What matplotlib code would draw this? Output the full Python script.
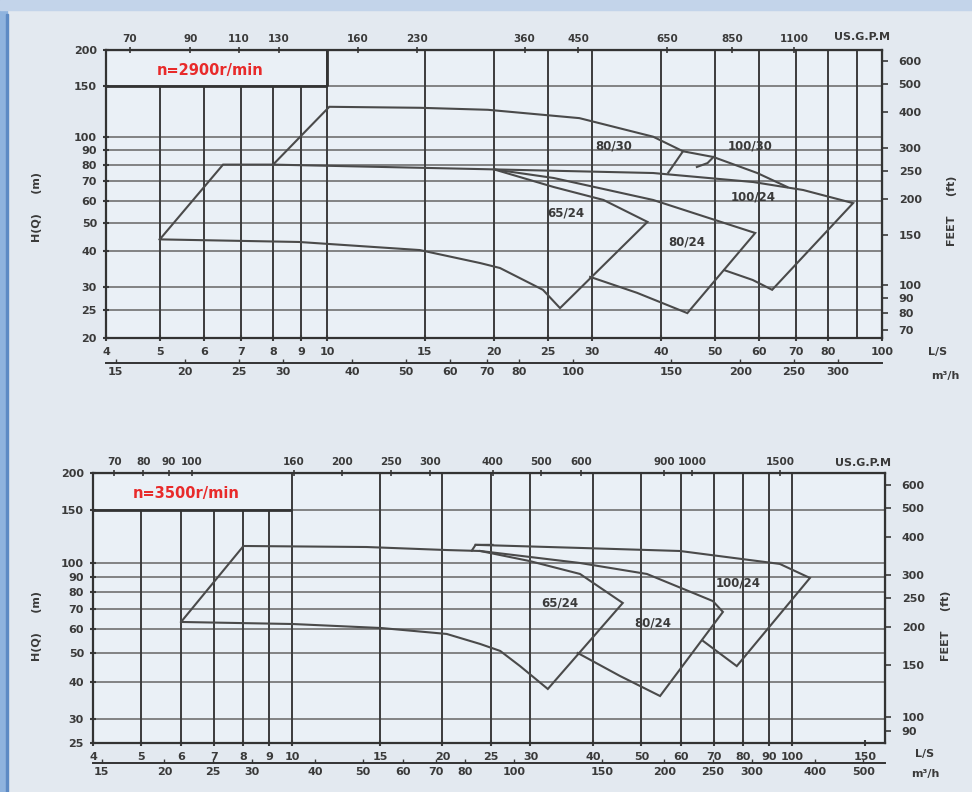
import matplotlib
matplotlib.use("Agg")
import matplotlib.pyplot as plt
from matplotlib.ticker import FixedLocator, NullLocator
from matplotlib.patches import Rectangle

# ---------------- top chart: n = 2900 r/min ----------------
top_ls_ticks = [4, 5, 6, 7, 8, 9, 10, 15, 20, 25, 30, 40, 50, 60, 70, 80, 100]
top_m3h_ticks = [15, 20, 25, 30, 40, 50, 60, 70, 80, 100, 150, 200, 250, 300]
top_gpm_pos = [70, 90, 110, 130, 180, 230, 360, 450, 650, 850, 1100]
top_gpm_labels = ["70", "90", "110", "130", "160", "230", "360", "450", "650", "850", "1100"]
top_h_ticks = [20, 25, 30, 40, 50, 60, 70, 80, 90, 100, 150, 200]
top_ft_ticks = [70, 80, 90, 100, 150, 200, 250, 300, 400, 500, 600]
top_vgrid_short = [5, 6, 7, 8, 9]
top_vgrid_full = [10, 15, 20, 25, 30, 40, 50, 60, 70, 80, 90]

# pump envelopes (Q in L/s, H in m)
t65_q = [5.0, 6.5, 8.0, 20.0, 25.6, 31.5, 37.8, 26.3, 24.5, 20.5, 18.9, 14.7, 8.9, 5.0]
t65_h = [44, 80, 80, 77, 66.9, 60.3, 50.6, 25.4, 29.4, 35.0, 36.4, 40.4, 43.1, 44]
t80_q = [20.0, 25.6, 38.7, 59.1, 44.6, 36.2, 29.8]
t80_h = [77, 71.9, 60.3, 46.3, 24.4, 28.7, 32.6]
t100_q = [20.0, 38.7, 58.6, 72.1, 88.7, 63.4, 58.5, 52.0]
t100_h = [77, 74.8, 69.6, 65.3, 58.8, 29.4, 31.8, 34.4]
t8030_q = [8.0, 10.1, 14.7, 19.5, 28.5, 38.7, 43.8, 41.2]
t8030_h = [80, 127, 126, 124, 116, 100, 89, 75]
t10030_q = [43.8, 49.7, 59.6, 67.5]
t10030_h = [89, 85, 74.8, 66.9]
t10030_arc_q = [46.4, 48.5, 49.7]
t10030_arc_h = [78.5, 81, 85]

top_labels = ["80/30", "100/30", "100/24", "65/24", "80/24"]
top_label_q = [32.8, 57.9, 58.6, 26.9, 44.4]
top_label_h = [93, 92.5, 61.7, 54.3, 43.1]

# ---------------- bottom chart: n = 3500 r/min ----------------
bot_ls_pos = [4, 5, 6, 7, 8, 9, 10, 15, 20, 25, 30, 40, 50, 60, 70, 80, 90, 100, 140]
bot_ls_labels = ["4", "5", "6", "7", "8", "9", "10", "15", "20", "25", "30", "40",
                 "50", "60", "70", "80", "90", "100", "150"]
bot_m3h_ticks = [15, 20, 25, 30, 40, 50, 60, 70, 80, 100, 150, 200, 250, 300, 400, 500]
bot_gpm_pos = [70, 80, 90, 100, 160, 200, 250, 300, 400, 500, 600, 880, 1000, 1500]
bot_gpm_labels = ["70", "80", "90", "100", "160", "200", "250", "300", "400", "500",
                  "600", "900", "1000", "1500"]
bot_h_ticks = [25, 30, 40, 50, 60, 70, 80, 90, 100, 150, 200]
bot_ft_ticks = [90, 100, 150, 200, 250, 300, 400, 500, 600]
bot_vgrid_short = [5, 6, 7, 8, 9]
bot_vgrid_full = [10, 15, 20, 25, 30, 40, 50, 60, 70, 80, 90, 100]

b65_q = [6.0, 8.0, 14.1, 20.4, 23.8, 29.9, 37.7, 45.9, 32.5, 28.6, 26.1, 23.8, 20.4, 15.1, 10.05, 6.0]
b65_h = [63.5, 114, 113.1, 110.5, 109.7, 101.5, 91.9, 73.5, 37.9, 45.2, 50.8, 53.6, 57.9, 60.6, 62.5, 63.5]
b80_q = [23.8, 37.7, 51.3, 69.5, 72.8, 54.5, 45.3, 37.3]
b80_h = [109.7, 100, 91.9, 74.6, 68.6, 35.9, 41.9, 50.0]
b100_q = [23.3, 37.7, 59.7, 94.6, 108.7, 77.6, 66.5]
b100_h = [115, 112.3, 109.7, 99.3, 89.1, 45.2, 54.8]
b_notch_q = [22.9, 23.3, 25.2]
b_notch_h = [110, 115, 115]

bot_labels = ["65/24", "80/24", "100/24"]
bot_label_q = [34.4, 52.7, 78.0]
bot_label_h = [73.5, 63.0, 85.7]

INK = "#3a3a3a"
LINE = "#4a4a4a"
W, H = 972, 792


def fx(px):
    return px / W


def fy(py):
    return 1 - py / H


def setup_panel(ax, xlim, ylim, ls_pos, ls_labels, m3h_ticks, gpm_pos, gpm_labels,
                h_ticks, ft_ticks, vshort, vfull, m3h_loc):
    ax.set_xscale("log")
    ax.set_yscale("log")
    ax.set_xlim(*xlim)
    ax.set_ylim(*ylim)
    ax.set_facecolor("#eaf0f6")

    # grid drawn by hand: short verticals stop at the 150 m line
    ax.hlines(h_ticks, xlim[0], xlim[1], colors="#7a7a7a", lw=1.3, zorder=1)
    ax.vlines(vshort, ylim[0], 150, colors="#3c3c3c", lw=1.4, zorder=1)
    ax.vlines(vfull, ylim[0], ylim[1], colors="#3c3c3c", lw=1.4, zorder=1)
    ax.hlines([150], xlim[0], 10, colors="#333333", lw=2.0, zorder=2)

    ax.xaxis.set_major_locator(FixedLocator(ls_pos))
    ax.xaxis.set_minor_locator(NullLocator())
    ax.set_xticklabels(ls_labels)
    ax.yaxis.set_major_locator(FixedLocator(h_ticks))
    ax.yaxis.set_minor_locator(NullLocator())
    ax.set_yticklabels([str(v) for v in h_ticks])
    ax.tick_params(axis="both", direction="inout", length=5, width=1.5, colors=INK,
                   labelsize=8, pad=4)
    for lab in ax.get_xticklabels() + ax.get_yticklabels():
        lab.set_fontweight("bold")
    for sp in ax.spines.values():
        sp.set_color("#333333")
        sp.set_linewidth(1.6)

    top = ax.secondary_xaxis("top", functions=(lambda q: q * 15.85, lambda g: g / 15.85))
    top.xaxis.set_major_locator(FixedLocator(gpm_pos))
    top.xaxis.set_minor_locator(NullLocator())
    top.set_xticklabels(gpm_labels)
    top.tick_params(direction="inout", length=4, width=1.2, colors=INK, labelsize=7.5, pad=2)

    right = ax.secondary_yaxis("right", functions=(lambda m: m * 3.281, lambda f: f / 3.281))
    right.yaxis.set_major_locator(FixedLocator(ft_ticks))
    right.yaxis.set_minor_locator(NullLocator())
    right.set_yticklabels([str(v) for v in ft_ticks])
    right.tick_params(direction="out", length=4, width=1.2, colors=INK, labelsize=8, pad=8)

    bot = ax.secondary_xaxis(m3h_loc, functions=(lambda q: q * 3.6, lambda m: m / 3.6))
    bot.xaxis.set_major_locator(FixedLocator(m3h_ticks))
    bot.xaxis.set_minor_locator(NullLocator())
    bot.set_xticklabels([str(v) for v in m3h_ticks])
    bot.tick_params(direction="in", length=3, width=1.0, colors=INK, labelsize=8, pad=3)
    bot.spines["bottom"].set_color("#555555")
    bot.spines["bottom"].set_linewidth(1.4)

    for sec in (top, right, bot):
        for lab in sec.get_xticklabels() + sec.get_yticklabels():
            lab.set_fontweight("bold")
        for sp in sec.spines.values():
            sp.set_color("#333333")


def outline(ax, q, h):
    ax.plot(q, h, color=LINE, lw=1.5, solid_joinstyle="miter", zorder=3)


fig = plt.figure(figsize=(W / 100, H / 100), dpi=100, facecolor="#e3e9f0")

# photo frame around the chart
fig.patches.append(Rectangle((0, 0), fx(7), 1, transform=fig.transFigure,
                             color="#8fb3de", zorder=0))
fig.patches.append(Rectangle((fx(6), 0), fx(2), fy(14), transform=fig.transFigure,
                             color="#5d8ac4", zorder=0))
fig.patches.append(Rectangle((0, fy(10)), 1, 10 / H, transform=fig.transFigure,
                             color="#c3d4ea", zorder=0))

# ---- top panel ----
ax1 = fig.add_axes([fx(106), fy(338), fx(882) - fx(106), (338 - 50) / H])
setup_panel(ax1, (4, 100), (20, 200), top_ls_ticks, [str(v) for v in top_ls_ticks],
            top_m3h_ticks, top_gpm_pos, top_gpm_labels, top_h_ticks, top_ft_ticks,
            top_vgrid_short, top_vgrid_full, -0.087)
ax1.vlines([10], 150, 200, colors="#333333", lw=2.0, zorder=2)
for q, h in [(t65_q, t65_h), (t80_q, t80_h), (t100_q, t100_h), (t8030_q, t8030_h),
             (t10030_q, t10030_h), (t10030_arc_q, t10030_arc_h)]:
    outline(ax1, q, h)
for s, q, h in zip(top_labels, top_label_q, top_label_h):
    ax1.text(q, h, s, ha="center", va="center", fontsize=8.5, fontweight="bold",
             color=INK, zorder=4)
ax1.text(6.16, 170, "n=2900r/min", color="#e82a2a", fontsize=10.5, fontweight="bold",
         ha="center", va="center", zorder=4)

# ---- bottom panel ----
ax2 = fig.add_axes([fx(93), fy(743), fx(885) - fx(93), (743 - 473) / H])
setup_panel(ax2, (4, 153.6), (25, 200), bot_ls_pos, bot_ls_labels, bot_m3h_ticks,
            bot_gpm_pos, bot_gpm_labels, bot_h_ticks, bot_ft_ticks,
            bot_vgrid_short, bot_vgrid_full, -0.074)
for q, h in [(b65_q, b65_h), (b80_q, b80_h), (b100_q, b100_h), (b_notch_q, b_notch_h)]:
    outline(ax2, q, h)
for s, q, h in zip(bot_labels, bot_label_q, bot_label_h):
    ax2.text(q, h, s, ha="center", va="center", fontsize=8.5, fontweight="bold",
             color=INK, zorder=4)
ax2.text(6.14, 171, "n=3500r/min", color="#e82a2a", fontsize=10.5, fontweight="bold",
         ha="center", va="center", zorder=4)

# unit captions
cap = dict(color=INK, fontsize=8, fontweight="bold", ha="center", va="center")
fig.text(fx(862), fy(37), "US.G.P.M", **cap)
fig.text(fx(938), fy(352), "L/S", **cap)
fig.text(fx(945), fy(376), "m\u00b3/h", **cap)
fig.text(fx(37), fy(207), "H(Q)     (m)", rotation=90, **cap)
fig.text(fx(952), fy(211), "FEET     (ft)", rotation=90, **cap)

fig.text(fx(863), fy(463), "US.G.P.M", **cap)
fig.text(fx(925), fy(754), "L/S", **cap)
fig.text(fx(925), fy(774), "m\u00b3/h", **cap)
fig.text(fx(37), fy(626), "H(Q)     (m)", rotation=90, **cap)
fig.text(fx(946), fy(626), "FEET     (ft)", rotation=90, **cap)

fig.savefig("out.png", dpi=100, facecolor=fig.get_facecolor())
